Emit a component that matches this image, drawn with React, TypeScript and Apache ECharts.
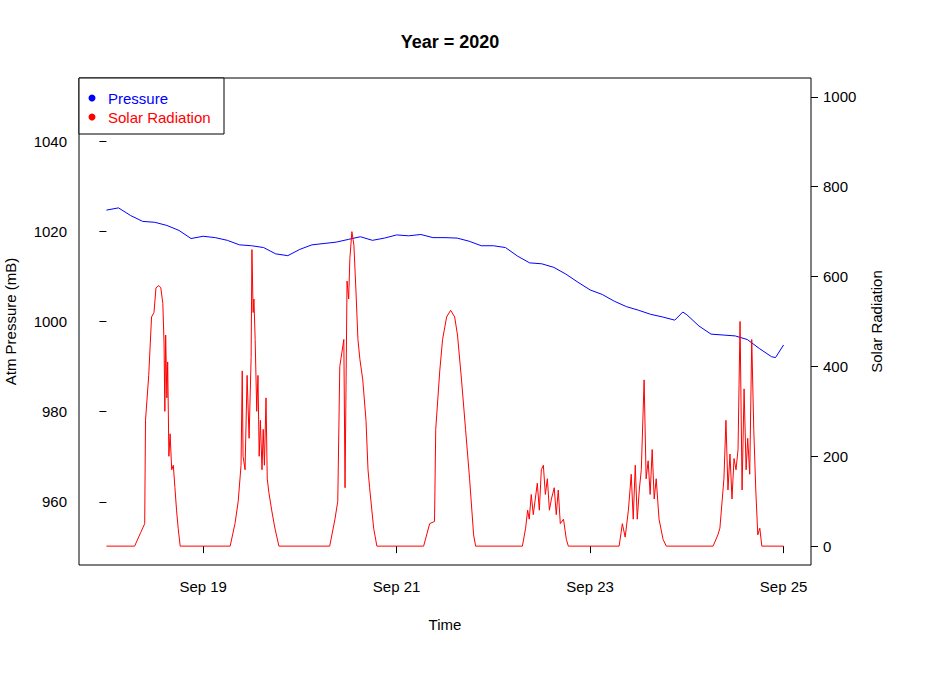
import React, { useEffect, useRef } from 'react';
import * as echarts from 'echarts';

// hours since Sep 18 00:00
const pressureHours = [0, 3, 6, 9, 12, 15, 18, 21, 24, 27, 30, 33, 36, 39, 42, 45, 48, 51, 54, 57, 60, 63, 66, 69, 72, 75, 78, 81, 84, 87, 90, 93, 96, 99, 102, 105, 108, 111, 114, 117, 120, 123, 126, 129, 132, 135, 138, 141, 143, 144, 147, 150, 153, 156, 159, 162, 165, 166, 168];
const pressureValues = [1024.7, 1025.2, 1023.5, 1022.2, 1022.0, 1021.3, 1020.2, 1018.4, 1018.9, 1018.6, 1018.0, 1017.0, 1016.8, 1016.4, 1015.0, 1014.6, 1016.0, 1017.0, 1017.3, 1017.6, 1018.2, 1018.8, 1018.0, 1018.5, 1019.2, 1019.0, 1019.3, 1018.6, 1018.6, 1018.5, 1017.8, 1016.8, 1016.8, 1016.4, 1014.5, 1013.0, 1012.8, 1012.0, 1010.5, 1008.7, 1007.0, 1006.0, 1004.5, 1003.3, 1002.5, 1001.6, 1001.0, 1000.3, 1002.1, 1001.5, 999.0, 997.2, 997.0, 996.8, 996.0, 994.0, 992.2, 992.0, 994.8];

const solarHours = [
  0, 7, 8.5, 9.5, 9.7, 10.5, 11.2, 11.8, 12.3, 13, 13.5, 14, 14.3, 14.5, 14.7, 15, 15.2, 15.5, 15.8, 16.2, 16.6, 17, 17.4, 17.8, 18.3,
  30.7, 31.9, 32.7, 33.4, 33.7, 33.9, 34.4, 34.9, 35.4, 35.9, 36.1, 36.4, 36.6, 36.9, 37.3, 37.6, 37.9, 38.2, 38.6, 38.9, 39.2, 39.6, 39.9, 40.3, 41, 41.8, 42.8,
  55.4, 56.7, 57.4, 57.9, 58.4, 58.9, 59.2, 59.7, 60.1, 60.4, 60.9, 61.4, 61.9, 62.4, 62.9, 63.6, 64.4, 64.9, 65.3, 66.3, 67.1,
  78.7, 80.2, 81.4, 81.7, 82.7, 83.4, 84.4, 85.4, 86.4, 87.1, 88.1, 89.1, 90.1, 91.1, 91.6,
  103.2, 104, 104.5, 104.9, 105.4, 105.9, 106.4, 106.9, 107.4, 107.9, 108.4, 108.9, 109.4, 109.9, 110.4, 111.1, 111.6, 112.1, 112.6, 113.4, 114.1, 114.6,
  127.2, 128, 128.7, 129.5, 130.2, 130.7, 131.2, 131.7, 132.2, 132.7, 133.4, 133.9, 134.4, 134.9, 135.4, 135.9, 136.4, 137.1, 138.1, 138.9,
  150.5, 151.7, 152.2, 153.2, 153.7, 154.2, 154.7, 155.2, 155.7, 156.2, 156.7, 157.2, 157.7, 158.2, 158.7, 159.1, 159.6, 160.1, 160.6, 161.1, 161.6, 162.1, 162.6, 168,
];
const solarValues = [
  0, 0, 30, 50, 280, 380, 510, 520, 575, 580, 575, 540, 450, 300, 470, 330, 410, 200, 250, 170, 180, 130, 80, 40, 0,
  0, 50, 100, 180, 390, 200, 170, 380, 240, 420, 660, 520, 550, 460, 300, 380, 200, 280, 170, 260, 180, 330, 150, 120, 80, 40, 0,
  0, 60, 100, 400, 430, 460, 130, 590, 550, 640, 700, 670, 570, 460, 415, 370, 280, 170, 130, 40, 0,
  0, 50, 55, 260, 390, 460, 510, 525, 510, 470, 370, 260, 150, 25, 0,
  0, 40, 80, 60, 115, 70, 105, 140, 80, 170, 180, 115, 150, 80, 105, 130, 70, 125, 50, 60, 15, 0,
  0, 50, 20, 80, 160, 60, 180, 60, 125, 170, 370, 150, 190, 115, 215, 105, 150, 60, 15, 0,
  0, 25, 40, 150, 280, 125, 205, 105, 195, 170, 215, 500, 125, 350, 170, 240, 160, 460, 260, 125, 25, 40, 0, 0,
];

const dayTicks = [24, 72, 120, 168];
const dayLabels = ['Sep 19', 'Sep 21', 'Sep 23', 'Sep 25'];
const pressureTicks = [960, 980, 1000, 1020, 1040];
const solarTicks = [0, 200, 400, 600, 800, 1000];

const FONT = 'Liberation Sans';

const App: React.FC = () => {
  const chartRef = useRef<HTMLDivElement>(null);

  useEffect(() => {
    document.body.style.margin = '0';
    const chart = echarts.init(chartRef.current!, undefined, { renderer: 'svg' });
    const tickStyle = { show: true, inside: false, length: 7, lineStyle: { color: '#000' } };
    const labelBase = { color: '#000', fontSize: 15, fontFamily: FONT };
    const option: any = {
      animation: false,
      backgroundColor: '#fff',
      title: {
        text: 'Year = 2020',
        left: 445,
        top: 28,
        textAlign: 'center',
        textStyle: { fontSize: 18, fontWeight: 'bold', fontFamily: FONT, color: '#000' },
      },
      grid: {
        left: 79, right: 118, top: 78, bottom: 118,
        containLabel: false, outerBoundsMode: 'none',
        show: true, borderColor: '#000', borderWidth: 1, backgroundColor: 'transparent',
      },
      xAxis: {
        type: 'value',
        min: -6.8,
        max: 174.8,
        axisLine: { show: false },
        splitLine: { show: false },
        axisTick: { ...tickStyle, customValues: dayTicks },
        axisLabel: {
          ...labelBase,
          margin: 14,
          customValues: dayTicks,
          formatter: (v: number) => dayLabels[dayTicks.indexOf(v)] ?? '',
        },
        name: 'Time',
        nameLocation: 'middle',
        nameGap: 52,
        nameTextStyle: labelBase,
      },
      yAxis: [
        {
          type: 'value',
          min: 946,
          max: 1054,
          axisLine: { show: false },
          splitLine: { show: false },
          axisTick: { ...tickStyle, customValues: pressureTicks },
          axisLabel: { ...labelBase, margin: 12, customValues: pressureTicks, formatter: (v: number) => String(v) },
          name: 'Atm Pressure (mB)',
          nameLocation: 'middle',
          nameGap: 61,
          nameTextStyle: labelBase,
        },
        {
          type: 'value',
          min: -42,
          max: 1042,
          position: 'right',
          axisLine: { show: false },
          splitLine: { show: false },
          axisTick: { ...tickStyle, customValues: solarTicks },
          axisLabel: { ...labelBase, margin: 12, customValues: solarTicks, formatter: (v: number) => String(v) },
          name: 'Solar Radiation',
          nameLocation: 'middle',
          nameGap: 58,
          nameTextStyle: labelBase,
        },
      ],
      series: [
        {
          name: 'Pressure',
          type: 'line',
          yAxisIndex: 0,
          showSymbol: false,
          lineStyle: { color: '#0000ff', width: 1 },
          data: pressureHours.map((h, i) => [h, pressureValues[i]]),
        },
        {
          name: 'Solar Radiation',
          type: 'line',
          yAxisIndex: 1,
          showSymbol: false,
          lineStyle: { color: '#ff0000', width: 1 },
          data: solarHours.map((h, i) => [h, solarValues[i]]),
        },
      ],
      graphic: [
        { type: 'rect', shape: { x: 79, y: 78, width: 145, height: 56 }, style: { fill: '#fff', stroke: '#000', lineWidth: 1 } },
        { type: 'circle', shape: { cx: 92, cy: 98, r: 3.5 }, style: { fill: '#0000ff' } },
        { type: 'circle', shape: { cx: 92, cy: 117, r: 3.5 }, style: { fill: '#ff0000' } },
        { type: 'text', x: 108, y: 98, style: { text: 'Pressure', fill: '#0000ff', fontSize: 15, fontFamily: FONT, verticalAlign: 'middle' } },
        { type: 'text', x: 108, y: 117, style: { text: 'Solar Radiation', fill: '#ff0000', fontSize: 15, fontFamily: FONT, verticalAlign: 'middle' } },
      ],
    };
    chart.setOption(option);
    return () => {
      chart.dispose();
    };
  }, []);

  return <div ref={chartRef} style={{ width: '929px', height: '683px' }} />;
};

export default App;
